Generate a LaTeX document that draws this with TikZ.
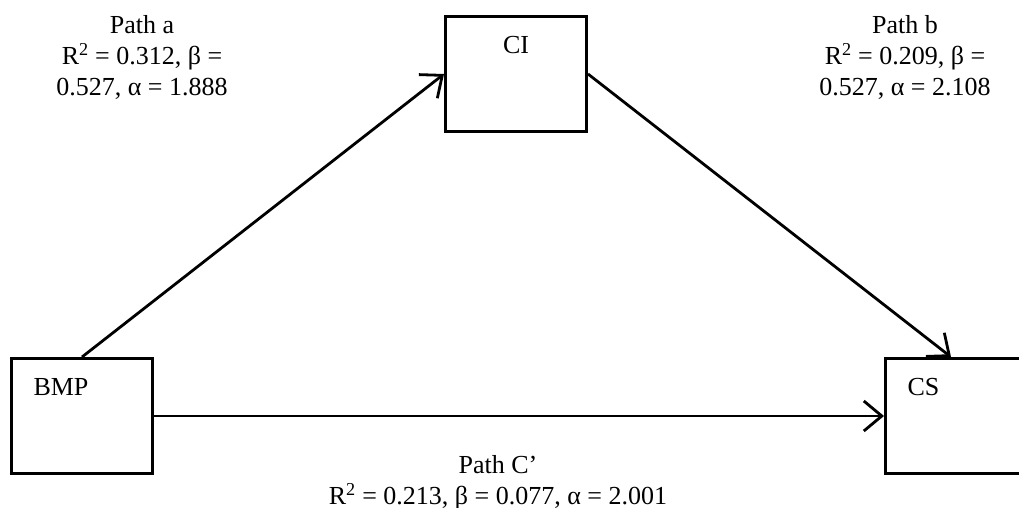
\documentclass[tikz,border=0pt]{standalone}
\usepackage{fontspec}
\setmainfont{Liberation Serif}
\usetikzlibrary{arrows.meta}

\begin{document}
\begin{tikzpicture}[
    x=1pt, y=-1pt,
    every node/.style={font=\fontsize{26}{31}\selectfont},
    box/.style={rectangle,draw,line width=3pt,text width=97pt,inner xsep=22pt,inner ysep=0pt,text height=37pt,text depth=78pt},
    lbl/.style={align=center,inner sep=0pt,anchor=north},
    arr/.style={line width=2.8pt,-{Straight Barb[length=18pt,width=30pt]}}
]
\useasboundingbox (0,0) rectangle (1019,508);

\node[box,anchor=north west,align=left] (BMP) at (10,357) {BMP};
\node[box,anchor=north west,align=center] (CI) at (444,15) {CI};
% CS box runs off the right edge
\begin{scope}
\clip (0,0) rectangle (1019,508);
\node[box,anchor=north west,align=left,text width=300pt] (CS) at (884,357) {CS};
\end{scope}

\node[lbl] (patha) at (142,15) {Path a\\R\textsuperscript{2} = 0.312, β =\\0.527, α = 1.888};
\node[lbl] (pathb) at (905,15) {Path b\\R\textsuperscript{2} = 0.209, β =\\0.527, α = 2.108};
\node[lbl] (pathc) at (498,455) {Path C’\\R\textsuperscript{2} = 0.213, β = 0.077, α = 2.001};

\draw[arr] (BMP.north) -- (CI.west);
\draw[arr] (CI.east) -- (CS.north west -| 951,0);
\draw[arr] (BMP.east) -- (CS.west);

\end{tikzpicture}
\end{document}
